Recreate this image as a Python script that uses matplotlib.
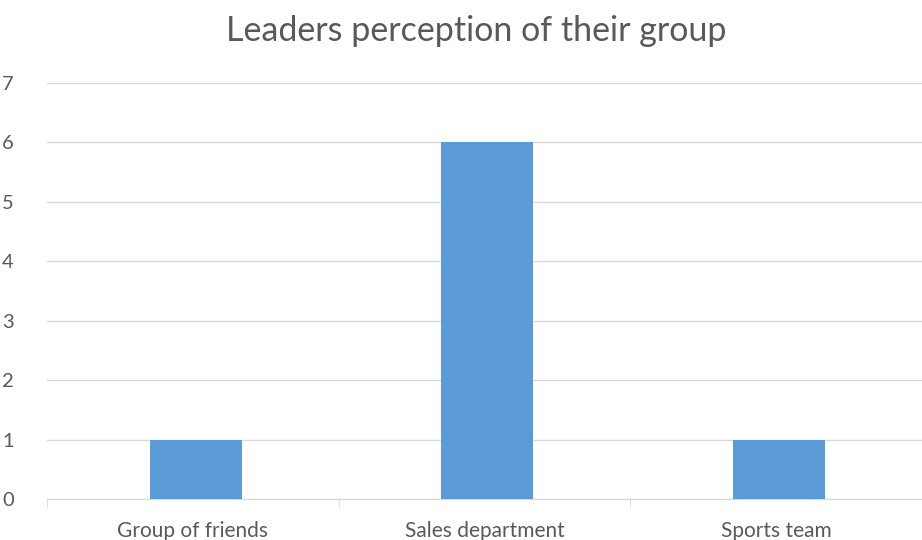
import matplotlib.pyplot as plt
import numpy as np

categories = ["Group of friends", "Sales department", "Sports team"]
values = [1, 6, 1]
yticks = [0, 1, 2, 3, 4, 5, 6, 7]

plt.rcParams['font.family'] = ['Lato', 'DejaVu Sans']

fig = plt.figure(figsize=(9.22, 5.4), dpi=100)
ax = fig.add_axes([47 / 922, 41 / 540, 875 / 922, 416 / 540])

x = np.arange(len(categories))
ax.bar(x + 0.01, values, width=0.315, color="#5B9BD5", zorder=3)

ax.set_xlim(-0.5, len(categories) - 0.5)
ax.set_ylim(0, 7)
ax.set_yticks(yticks)
ax.set_xticks(x)
ax.set_xticklabels(categories)
ax.set_xticks(np.arange(-0.5, len(categories)), minor=True)

ax.grid(axis="y", color="#D9D9D9", linewidth=1, zorder=0)
for s in ["top", "right", "left"]:
    ax.spines[s].set_visible(False)
ax.spines["bottom"].set_color("#D9D9D9")
ax.tick_params(axis="x", which="major", length=0, pad=16, labelsize=15, labelcolor="#595959")
ax.tick_params(axis="x", which="minor", length=6, color="#D9D9D9")
ax.tick_params(axis="y", length=0, pad=24, labelsize=14.5, labelcolor="#595959")

fig.text(476 / 922, 1 - 31 / 540, "Leaders perception of their group",
         ha="center", va="center", fontsize=24.5, color="#595959")

fig.savefig("out.png", dpi=100)
